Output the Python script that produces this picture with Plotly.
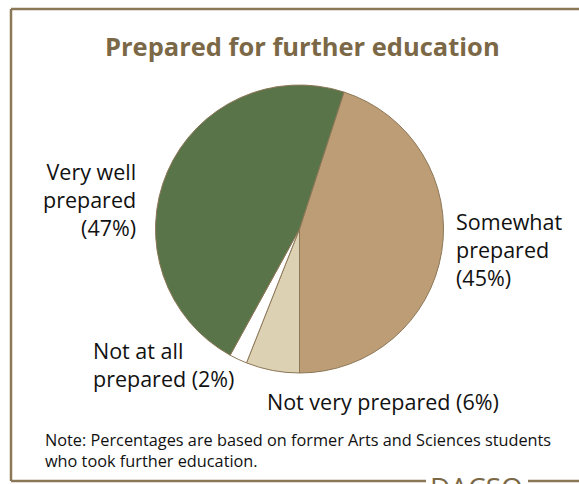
import plotly.graph_objects as go

W, H = 579, 484

# Slice data, clockwise from the top
categories = ["Somewhat prepared", "Not very prepared", "Not at all prepared", "Very well prepared"]
percentages = [45, 6, 2, 47]
slice_colors = ["#BC9D76", "#DDD1B3", "#FFFFFF", "#5A744A"]

title_text = "Prepared for further education"
note_lines = ["Note: Percentages are based on former Arts and Sciences students",
              "who took further education."]
brand_text = "DACSO"

BROWN = "#7B6846"
FRAME = "#8A7858"
FONT = "Open Sans"


def px(x):
    return x / W


def py(y):
    return 1 - y / H


fig = go.Figure(go.Pie(
    labels=categories,
    values=percentages,
    sort=False,
    direction="clockwise",
    rotation=18,
    marker=dict(colors=slice_colors, line=dict(color="#8C7757", width=1)),
    textinfo="none",
    hoverinfo="label+percent",
    showlegend=False,
    domain=dict(x=[px(155), px(444)], y=[py(373), py(85)]),
))

annotations = []


def label(text, x, y, xanchor, align, size=21.5, color="#111111", bold=False):
    annotations.append(dict(
        text=f"<b>{text}</b>" if bold else text,
        x=px(x), y=py(y), xref="paper", yref="paper",
        xanchor=xanchor, yanchor="middle", align=align, showarrow=False,
        font=dict(family=FONT, size=size, color=color),
    ))


label(title_text, 302, 46, "center", "center", size=25.5, color=BROWN, bold=True)

# Slice labels
label("Very well<br>prepared<br>(47%)", 138, 200, "right", "right")
label("Somewhat<br>prepared<br>(45%)", 454, 250, "left", "left")
label("Not very prepared (6%)", 265, 401, "left", "left")
label("Not at all<br>prepared (2%)", 91, 364, "left", "left")

# Footnote
label("<br>".join(note_lines), 43, 450.5, "left", "left", size=16.3)

# Brand mark on the bottom frame line
label(brand_text, 476, 487, "center", "center", size=28, color=BROWN)

# Frame: left, top and bottom rules (bottom one broken around the brand mark)
frame_segments = [
    (11, 9, 11, 481),
    (11, 9, W, 9),
    (11, 481, 426, 481),
    (528, 481, W, 481),
]
shapes = [
    dict(type="line", xref="paper", yref="paper",
         x0=px(a), y0=py(b), x1=px(c), y1=py(d),
         line=dict(color=FRAME, width=2.5))
    for a, b, c, d in frame_segments
]

fig.update_layout(
    width=W, height=H,
    margin=dict(l=0, r=0, t=0, b=0),
    paper_bgcolor="white",
    plot_bgcolor="white",
    annotations=annotations,
    shapes=shapes,
)

fig.write_html("out.html")
